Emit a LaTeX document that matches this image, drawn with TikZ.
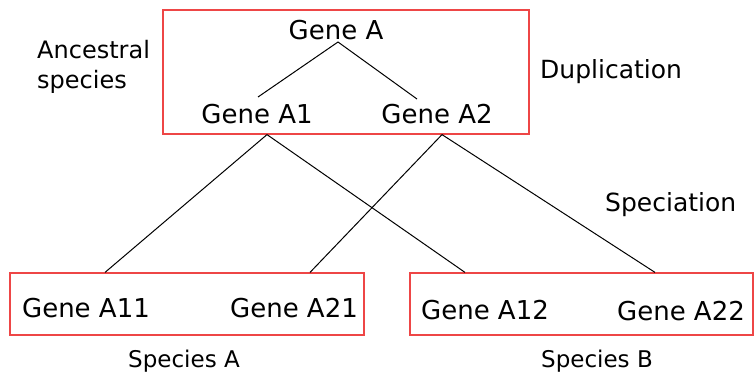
\documentclass[tikz,border=0pt]{standalone}
\usepackage{fontspec}
\setmainfont{DejaVu Sans}
\usetikzlibrary{calc}
\definecolor{boxred}{RGB}{238,70,70}
\tikzset{
  groupbox/.style={draw=boxred, line width=1.2pt, rectangle, inner sep=0pt},
  gene/.style={font=\fontsize{26}{30}\selectfont, inner sep=0pt, anchor=base},
  sidelabel/.style={font=\fontsize{25}{30}\selectfont, inner sep=0pt, anchor=base west},
  specieslabel/.style={font=\fontsize{23}{28}\selectfont, inner sep=0pt, anchor=base},
  tree/.style={draw=black, line width=1pt}
}
\begin{document}
\begin{tikzpicture}[x=1pt, y=-1pt]
  \useasboundingbox (0,0) rectangle (754,373);

  % species boxes
  \node[groupbox, minimum width=366pt, minimum height=124pt] (anc) at (346,72) {};
  \node[groupbox, minimum width=354pt, minimum height=62pt] (spA) at (187,304) {};
  \node[groupbox, minimum width=343pt, minimum height=62pt] (spB) at (581.5,304) {};

  % genes
  \node[gene] (ga)  at (336,39)  {Gene A};
  \node[gene] (a1)  at (257,123) {Gene A1};
  \node[gene] (a2)  at (437,123) {Gene A2};
  \node[gene] (a11) at (86,317)  {Gene A11};
  \node[gene] (a21) at (294,317) {Gene A21};
  \node[gene] (a12) at (485,319) {Gene A12};
  \node[gene] (a22) at (681,320) {Gene A22};

  % side labels
  \node[sidelabel, font=\fontsize{24}{30}\selectfont] (anclab1) at (37,58) {Ancestral};
  \node[sidelabel, font=\fontsize{24}{30}\selectfont] (anclab2) at (37,88) {species};
  \node[sidelabel] (dup) at (540,78)  {Duplication};
  \node[sidelabel] (spec) at (605,211) {Speciation};
  \node[specieslabel] (labA) at (184,367) {Species A};
  \node[specieslabel] (labB) at (597,367) {Species B};

  % duplication
  \draw[tree] ($(ga.base)+(2,3)$) -- ($(a1.base)+(1,-26)$);
  \draw[tree] ($(ga.base)+(2,3)$) -- ($(a2.base)+(-20,-24)$);

  % speciation
  \draw[tree] ($(a1.base |- anc.south)+(10,0)$) -- ($(a11.base |- spA.north)+(19,0)$);
  \draw[tree] ($(a1.base |- anc.south)+(10,0)$) -- ($(a12.base |- spB.north)+(-20,0)$);
  \draw[tree] ($(a2.base |- anc.south)+(5,0)$) -- ($(a21.base |- spA.north)+(16,0)$);
  \draw[tree] ($(a2.base |- anc.south)+(5,0)$) -- ($(a22.base |- spB.north)+(-26,0)$);
\end{tikzpicture}
\end{document}
